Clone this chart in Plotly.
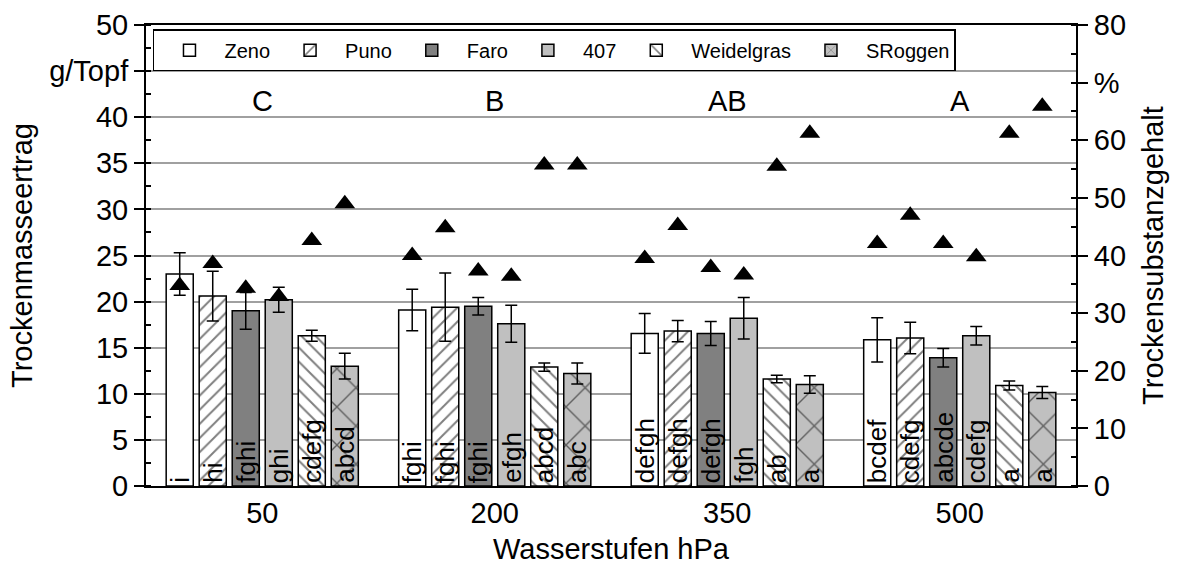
import plotly.graph_objects as go

# Water levels (hPa) on the category axis
stufen = ["50", "200", "350", "500"]
stufen_pos = [0, 1, 2, 3]

# Dry matter yield, g/Topf (left axis) with standard deviation
zeno = [23.0, 19.1, 16.55, 15.85]
zeno_sd = [2.3, 2.25, 2.15, 2.4]
puno = [20.6, 19.4, 16.8, 16.05]
puno_sd = [2.7, 3.7, 1.15, 1.7]
faro = [19.0, 19.5, 16.55, 13.9]
faro_sd = [2.0, 0.95, 1.3, 1.0]
s407 = [20.2, 17.6, 18.2, 16.3]
s407_sd = [1.35, 2.0, 2.25, 1.0]
weidelgras = [16.3, 12.9, 11.6, 10.9]
weidelgras_sd = [0.6, 0.45, 0.4, 0.5]
sroggen = [13.0, 12.2, 11.0, 10.15]
sroggen_sd = [1.4, 1.15, 0.95, 0.65]

# Dry substance content, % (right axis)
zeno_ts = [34.8, 40.0, 39.5, 42.1]
puno_ts = [38.6, 44.8, 45.2, 47.0]
faro_ts = [34.3, 37.3, 37.9, 42.1]
s407_ts = [32.9, 36.4, 36.6, 39.8]
weidelgras_ts = [42.6, 55.7, 55.5, 61.2]
sroggen_ts = [49.0, 55.7, 61.2, 65.9]

# Significance letters per bar and per water level
zeno_sig = ["i", "fghi", "defgh", "bcdef"]
puno_sig = ["hi", "fghi", "defgh", "cdefg"]
faro_sig = ["fghi", "fghi", "defgh", "abcde"]
s407_sig = ["ghi", "efgh", "fgh", "cdefg"]
weidelgras_sig = ["cdefg", "abcd", "ab", "a"]
sroggen_sig = ["abcd", "abc", "a", "a"]
stufen_sig = ["C", "B", "AB", "A"]
stufen_sig_y = [41.8, 41.8, 41.8, 41.8]

left_ticks = [0, 5, 10, 15, 20, 25, 30, 35, 40, 45, 50]
left_ticktext = ["0", "5", "10", "15", "20", "25", "30", "35", "40", "g/Topf", "50"]
right_ticks = [0, 10, 20, 30, 40, 50, 60, 70, 80]
right_ticktext = ["0", "10", "20", "30", "40", "50", "60", "%", "80"]

FONT = "Liberation Sans, Arial, sans-serif"
BARGAP = 0.148
BARGROUPGAP = 0.18

series = [
    ("Zeno", zeno, zeno_sd, zeno_ts, zeno_sig,
     dict(color="white", pattern=dict(shape=""))),
    ("Puno", puno, puno_sd, puno_ts, puno_sig,
     dict(color="white", pattern=dict(shape="/", fgcolor="black", bgcolor="white",
                                      size=10, solidity=0.2))),
    ("Faro", faro, faro_sd, faro_ts, faro_sig,
     dict(color="#808080", pattern=dict(shape=""))),
    ("407", s407, s407_sd, s407_ts, s407_sig,
     dict(color="#c0c0c0", pattern=dict(shape=""))),
    ("Weidelgras", weidelgras, weidelgras_sd, weidelgras_ts, weidelgras_sig,
     dict(color="white", pattern=dict(shape="\\", fgcolor="black", bgcolor="white",
                                      size=10, solidity=0.2))),
    ("SRoggen", sroggen, sroggen_sd, sroggen_ts, sroggen_sig,
     dict(color="#c0c0c0", pattern=dict(shape="x", fgcolor="black", bgcolor="#c0c0c0",
                                        size=27, solidity=0.1))),
]
n_series = len(series)
slot = (1 - BARGAP) / n_series

fig = go.Figure()

for i, (name, vals, sd, ts, sig, mk) in enumerate(series):
    fig.add_trace(go.Bar(
        name=name, x=stufen_pos, y=vals,
        error_y=dict(type="data", array=sd, color="black", thickness=1.5, width=6),
        marker=dict(line=dict(color="black", width=1.5), **mk),
        cliponaxis=False,
    ))

for i, (name, vals, sd, ts, sig, mk) in enumerate(series):
    # centre of this series' bar inside each group
    shift = -(1 - BARGAP) / 2 + slot * (i + 0.5)
    xs = [p + shift for p in stufen_pos]

    # dry-substance triangles on the right axis
    fig.add_trace(go.Scatter(
        name=name + " TS", x=xs, y=ts, yaxis="y2", mode="markers",
        marker=dict(symbol="triangle-up", size=18, color="black"),
        showlegend=False, cliponaxis=False,
    ))

    # significance letters written upward from the bar base
    for x, lab in zip(xs, sig):
        fig.add_annotation(x=x, y=0, xref="x", yref="y", text=lab, showarrow=False,
                           textangle=-90, xanchor="center", yanchor="bottom", yshift=1,
                           font=dict(family=FONT, size=26, color="black"))

for p, yv, lab in zip(stufen_pos, stufen_sig_y, stufen_sig):
    fig.add_annotation(x=p, y=yv, xref="x", yref="y", text=lab, showarrow=False,
                       font=dict(family=FONT, size=29, color="black"))

fig.update_layout(
    width=1178, height=565,
    margin=dict(l=146, r=102, t=25, b=79),
    paper_bgcolor="white", plot_bgcolor="white",
    font=dict(family=FONT, size=29, color="black"),
    barmode="group", bargap=BARGAP, bargroupgap=BARGROUPGAP,
    showlegend=True,
    legend=dict(orientation="h", x=0.0075, y=0.991, xanchor="left", yanchor="top",
                bordercolor="black", borderwidth=1.5, bgcolor="white",
                font=dict(family=FONT, size=20), itemwidth=60,
                traceorder="normal"),
    xaxis=dict(
        range=[-0.5, 3.5], tickmode="array", tickvals=stufen_pos, ticktext=stufen,
        showline=True, linecolor="black", linewidth=2, mirror=True,
        ticks="", tickfont=dict(size=29), ticklabelstandoff=0,
        title=dict(text="Wasserstufen hPa", font=dict(size=29), standoff=18),
        showgrid=False, zeroline=False, automargin=False,
    ),
    yaxis=dict(
        range=[0, 50], tickmode="array", tickvals=left_ticks, ticktext=left_ticktext,
        ticks="outside", ticklen=10, tickwidth=2, tickcolor="black",
        tickfont=dict(size=29),
        minor=dict(tickmode="linear", tick0=0, dtick=2.5, ticks="inside",
                   ticklen=5, tickwidth=1.5, tickcolor="black", showgrid=False),
        showline=True, linecolor="black", linewidth=2,
        showgrid=True, gridcolor="#a0a0a0", gridwidth=1.5, zeroline=False,
        title=dict(text="Trockenmasseertrag", font=dict(size=29), standoff=8),
        automargin=False,
    ),
    yaxis2=dict(
        overlaying="y", side="right", anchor="x",
        range=[0, 80], tickmode="array", tickvals=right_ticks, ticktext=right_ticktext,
        ticks="outside", ticklen=10, tickwidth=2, tickcolor="black",
        tickfont=dict(size=29),
        minor=dict(tickmode="linear", tick0=0, dtick=5, ticks="inside",
                   ticklen=5, tickwidth=1.5, tickcolor="black", showgrid=False),
        showline=True, linecolor="black", linewidth=2,
        showgrid=False, zeroline=False,
        title=dict(text="Trockensubstanzgehalt", font=dict(size=29), standoff=18),
        automargin=False,
    ),
)

fig.write_html("out.html")
